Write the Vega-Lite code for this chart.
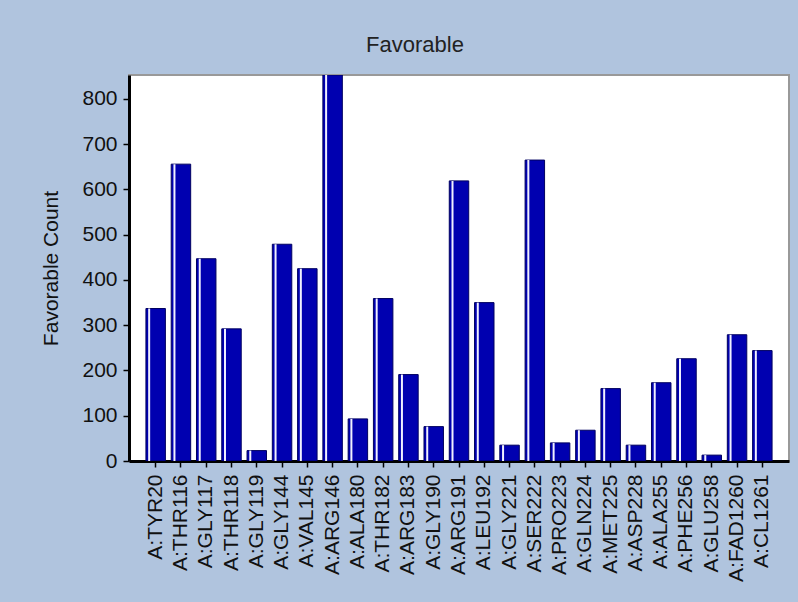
{
  "$schema": "https://vega.github.io/schema/vega-lite/v6.json",
  "width": 660,
  "height": 386,
  "autosize": {"type": "none"},
  "padding": {"left": 129, "top": 75, "right": 9, "bottom": 141},
  "background": "#B0C4DE",
  "title": {
    "text": "Favorable",
    "font": "Liberation Sans",
    "fontSize": 22,
    "fontWeight": "normal",
    "color": "#222222",
    "frame": "bounds",
    "anchor": "middle",
    "offset": 18
  },
  "data": {
    "values": [
      {"Residue": "A:TYR20", "Count": 337},
      {"Residue": "A:THR116", "Count": 656},
      {"Residue": "A:GLY117", "Count": 447},
      {"Residue": "A:THR118", "Count": 292},
      {"Residue": "A:GLY119", "Count": 23},
      {"Residue": "A:GLY144", "Count": 479},
      {"Residue": "A:VAL145", "Count": 425},
      {"Residue": "A:ARG146", "Count": 853},
      {"Residue": "A:ALA180", "Count": 93},
      {"Residue": "A:THR182", "Count": 359},
      {"Residue": "A:ARG183", "Count": 191},
      {"Residue": "A:GLY190", "Count": 76},
      {"Residue": "A:ARG191", "Count": 619},
      {"Residue": "A:LEU192", "Count": 350},
      {"Residue": "A:GLY221", "Count": 35},
      {"Residue": "A:SER222", "Count": 665},
      {"Residue": "A:PRO223", "Count": 40},
      {"Residue": "A:GLN224", "Count": 68},
      {"Residue": "A:MET225", "Count": 160},
      {"Residue": "A:ASP228", "Count": 35},
      {"Residue": "A:ALA255", "Count": 173},
      {"Residue": "A:PHE256", "Count": 226},
      {"Residue": "A:GLU258", "Count": 13},
      {"Residue": "A:FAD1260", "Count": 279},
      {"Residue": "A:CL1261", "Count": 244}
    ]
  },
  "encoding": {
    "x": {
      "field": "Residue",
      "type": "nominal",
      "sort": null,
      "scale": {"paddingInner": 0.23, "paddingOuter": 0.67},
      "axis": {
        "title": null,
        "labelAngle": -90,
        "labelFont": "Liberation Sans",
        "labelFontSize": 21,
        "labelColor": "#111111",
        "labelPadding": 7,
        "tickSize": 6,
        "tickColor": "#000000",
        "tickWidth": 1.5,
        "domainColor": "#000000",
        "domainWidth": 3,
        "grid": false
      }
    },
    "y": {
      "field": "Count",
      "type": "quantitative",
      "scale": {"domain": [0, 853], "nice": false},
      "axis": {
        "title": "Favorable Count",
        "titleFont": "Liberation Sans",
        "titleFontSize": 21,
        "titleFontWeight": "normal",
        "titleColor": "#111111",
        "titlePadding": 20,
        "values": [0, 100, 200, 300, 400, 500, 600, 700, 800],
        "labelFont": "Liberation Sans",
        "labelFontSize": 21,
        "labelColor": "#111111",
        "labelPadding": 6,
        "tickSize": 6,
        "tickColor": "#000000",
        "tickWidth": 1.5,
        "domainColor": "#000000",
        "domainWidth": 3,
        "grid": false
      }
    }
  },
  "layer": [
    {
      "mark": {"type": "bar", "color": "#0000B0", "stroke": "#000060", "strokeWidth": 1, "clip": true}
    },
    {
      "mark": {"type": "rule", "color": "#F0F0FF", "strokeWidth": 2, "xOffset": -6.5, "clip": true},
      "encoding": {
        "y": {"field": "Count", "type": "quantitative"},
        "y2": {"datum": 0}
      }
    }
  ],
  "config": {
    "view": {"stroke": "#999999", "strokeWidth": 2, "fill": "#FFFFFF"}
  }
}
